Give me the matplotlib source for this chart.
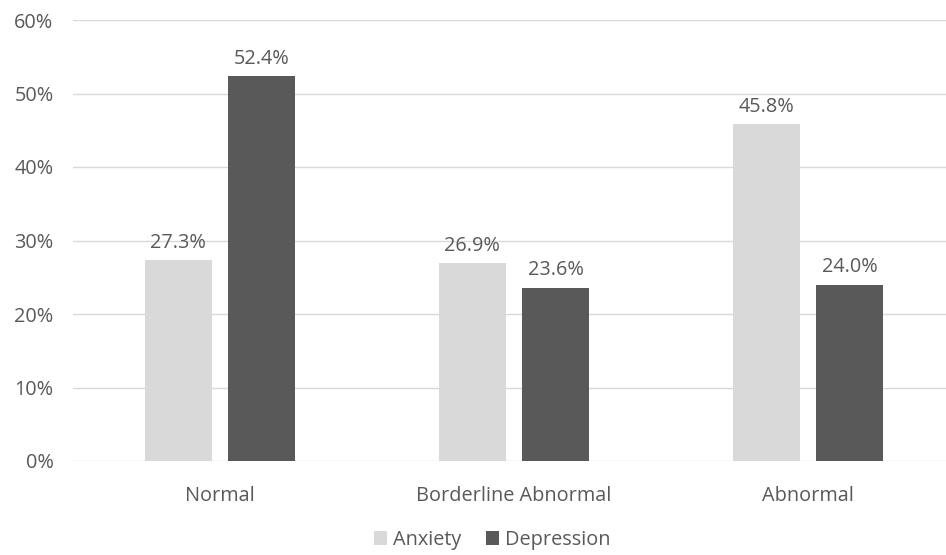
import matplotlib
matplotlib.use("Agg")
import matplotlib.pyplot as plt
import numpy as np

# data
categories = ["Normal", "Borderline Abnormal", "Abnormal"]
anxiety = [27.3, 26.9, 45.8]
depression = [52.4, 23.6, 24.0]
series_names = ["Anxiety", "Depression"]

plt.rcParams['font.family'] = ['Open Sans', 'DejaVu Sans']
TXT = '#595959'
FS = 14.3

fig = plt.figure(figsize=(9.46, 5.55), dpi=100)
# axes runs a bit past the right edge, like the reference
ax = fig.add_axes([73 / 946, 1 - 461 / 555, 882 / 946, (461 - 20) / 555])

x = np.arange(len(categories))
w = 0.228
off = 0.142
b1 = ax.bar(x - off, anxiety, w, color='#D9D9D9', label=series_names[0], zorder=3)
b2 = ax.bar(x + off, depression, w, color='#595959', label=series_names[1], zorder=3)

for bars in (b1, b2):
    for r in bars:
        ax.text(r.get_x() + r.get_width() / 2, r.get_height() + 1.0, f"{r.get_height():.1f}%",
                ha='center', va='bottom', fontsize=FS, color=TXT)

ax.set_xlim(-0.5, 2.5)
ax.set_ylim(0, 60)
ax.set_yticks(range(0, 61, 10))
ax.set_yticklabels([f"{v}%" for v in range(0, 61, 10)])
ax.set_xticks(x)
ax.set_xticklabels(categories)
ax.tick_params(axis='both', length=0, labelsize=FS, labelcolor=TXT)
ax.tick_params(axis='x', pad=18)
ax.tick_params(axis='y', pad=14)
ax.grid(axis='y', color='#D9D9D9', linewidth=1, zorder=0)
for s in ax.spines.values():
    s.set_visible(False)

fig.legend(loc='center', bbox_to_anchor=(492 / 946, 1 - 540 / 555), ncol=2, frameon=False,
           fontsize=FS, labelcolor=TXT, handlelength=0.65, handleheight=0.65,
           handletextpad=0.3, columnspacing=1.25)

fig.savefig('out.png', dpi=100)
